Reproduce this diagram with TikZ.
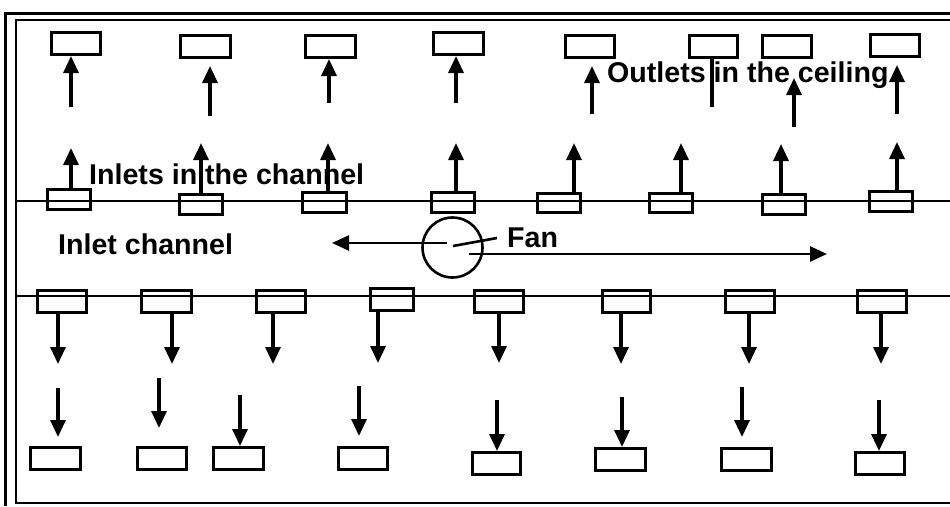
\documentclass[tikz,border=0pt]{standalone}
\usepackage{fontspec}
\setmainfont{Liberation Sans}
\usetikzlibrary{arrows.meta}
\begin{document}
\begin{tikzpicture}[x=1pt,y=-1pt,
  box/.style={draw, line width=3.2pt, rectangle, inner sep=0pt},
  arr/.style={line width=3.2pt, -{Triangle[width=15pt,length=17pt]}},
  fanarr/.style={line width=2.6pt, -{Triangle[width=15pt,length=17pt]}},
  lbl/.style={font=\fontsize{28.6}{34}\selectfont\bfseries, inner sep=0pt, anchor=base west}]
\useasboundingbox (0,0) rectangle (950,506);
\fill[white] (0,0) rectangle (950,506);
% frames
\draw[line width=3pt] (950,13) -- (5,13) -- (5,506);
\draw[line width=1.6pt] (950,20) -- (16,20) -- (16,503) -- (950,503);
% channel walls
\draw[line width=1.6pt] (16,201) -- (950,201);
\draw[line width=1.6pt] (16,296) -- (950,296);
% boxes
\foreach \n/\xa/\ya/\xb/\yb in {
  c1/50/31/102/56, c2/179/34/232/59, c3/304/34/357/59, c4/432/31/485/56,
  c5/564/34/616/59, c6/688/34/739/59, c7/761/34/813/59, c8/869/33/921/58,
  i1/46/188/92/211, i2/178/193/224/216, i3/301/191/348/214, i4/430/191/476/214,
  i5/536/192/582/214, i6/648/192/694/214, i7/761/193/807/216, i8/868/190/914/213,
  b1/36/289/88/314, b2/140/289/193/314, b3/255/289/307/314, b4/369/287/415/312,
  b5/473/289/525/314, b6/601/289/652/314, b7/724/289/776/314, b8/856/289/908/314,
  f1/29/446/82/471, f2/136/446/188/471, f3/212/446/265/471, f4/337/446/389/471,
  f5/471/451/522/476, f6/594/447/647/472, f7/720/447/773/472, f8/854/451/906/476}
  \node[box, minimum width={\xb-\xa-3.2}, minimum height={\yb-\ya-3.2}] (\n) at ({(\xa+\xb)/2},{(\ya+\yb)/2}) {};
% upper arrows to the ceiling
\coordinate (u1) at (71,107);  \draw[arr] (u1) -- (u1 |- c1.south);
\coordinate (u2) at (210,116); \coordinate (u2t) at (210,66); \draw[arr] (u2) -- (u2t);
\coordinate (u3) at (329,103); \draw[arr] (u3) -- (u3 |- c3.south);
\coordinate (u4) at (456,103); \draw[arr] (u4) -- (u4 |- c4.south);
\coordinate (u5) at (592,114); \coordinate (u5t) at (592,66); \draw[arr] (u5) -- (u5t);
\coordinate (u6) at (712,107); \draw[line width=3.2pt] (u6) -- (u6 |- c6.south);
\coordinate (u7) at (794,127); \coordinate (u7t) at (794,78); \draw[arr] (u7) -- (u7t);
\coordinate (u8) at (897,114); \coordinate (u8t) at (897,65); \draw[arr] (u8) -- (u8t);
% arrows from the inlets
\foreach \k/\x/\y in {1/71/148, 2/201/143, 3/328/143, 4/456/143, 5/574/143, 6/681/143, 7/781/144, 8/897/142}{
  \coordinate (t\k) at (\x,\y);
  \draw[arr] (i\k.north -| t\k) -- (t\k);
}
% arrows down from the channel
\foreach \k/\x/\y in {1/58/364, 2/172/364, 3/273/364, 4/378/363, 5/499/363, 6/621/364, 7/749/364, 8/881/364}{
  \coordinate (d\k) at (\x,\y);
  \draw[arr] (b\k.south -| d\k) -- (d\k);
}
% arrows to the floor
\coordinate (g1) at (58,388);  \coordinate (g1t) at (58,437);  \draw[arr] (g1) -- (g1t);
\coordinate (g2) at (159,378); \coordinate (g2t) at (159,428); \draw[arr] (g2) -- (g2t);
\coordinate (g3) at (240,395); \draw[arr] (g3) -- (g3 |- f3.north);
\coordinate (g4) at (359,386); \coordinate (g4t) at (359,436); \draw[arr] (g4) -- (g4t);
\coordinate (g5) at (497,400); \draw[arr] (g5) -- (g5 |- f5.north);
\coordinate (g6) at (622,397); \draw[arr] (g6) -- (g6 |- f6.north);
\coordinate (g7) at (742,387); \coordinate (g7t) at (742,437); \draw[arr] (g7) -- (g7t);
\coordinate (g8) at (879,400); \draw[arr] (g8) -- (g8 |- f8.north);
% fan
\node[circle, draw, line width=2.6pt, minimum size=60pt, inner sep=0pt] (fan) at (452.5,247.5) {};
\coordinate (fl) at (447,243); \coordinate (flt) at (332,243); \draw[fanarr] (fl) -- (flt);
\coordinate (fr) at (469,254); \coordinate (frt) at (827,254); \draw[fanarr] (fr) -- (frt);
\coordinate (fa) at (453,246); \coordinate (fb) at (497,238); \draw[line width=2.6pt] (fa) -- (fb);
% labels
\node[lbl] (lin) at (89,184) {Inlets in the channel};
\node[lbl] (lch) at (58,254) {Inlet channel};
\node[lbl] (lout) at (607,82) {Outlets in the ceiling};
\node[lbl] (lfan) at (507,247) {Fan};
\end{tikzpicture}
\end{document}
